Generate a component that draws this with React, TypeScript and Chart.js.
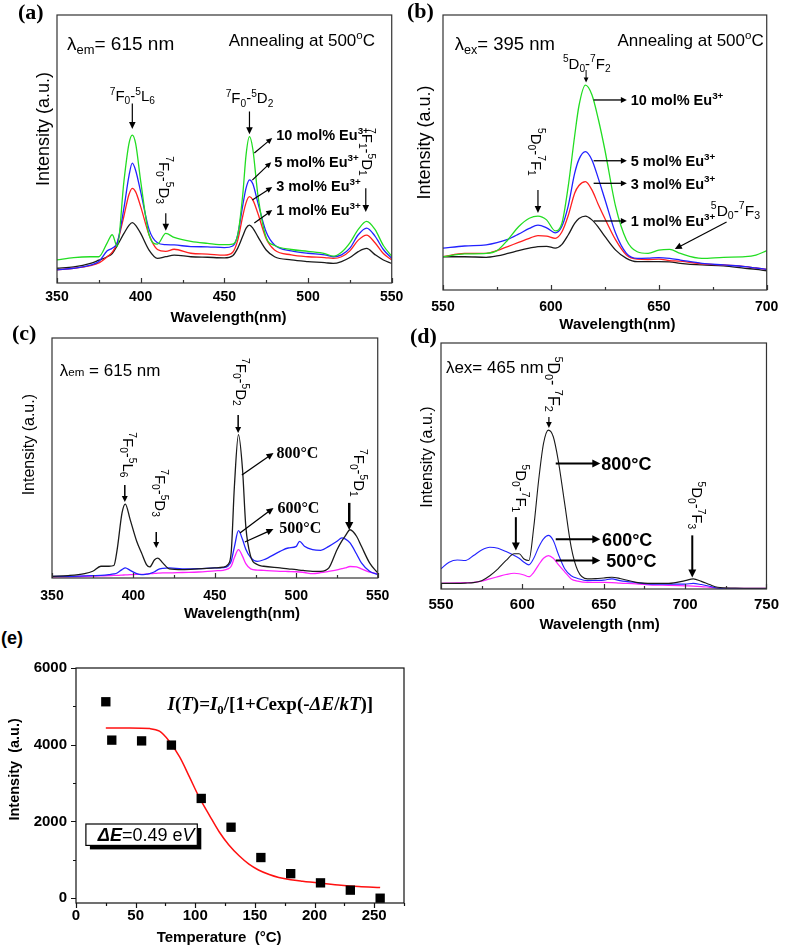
import React, { useEffect, useRef } from 'react';
import { Chart, registerables } from 'chart.js';
Chart.register(...registerables);

const SANS = '"Liberation Sans", Arial, Helvetica, sans-serif';
const SERIF = '"Liberation Serif", "Times New Roman", serif';

// ---------------- data ----------------
// (a) excitation spectra, λem = 615 nm
const aWavelength = [350, 360, 370, 375, 380, 383, 386, 390, 393, 395, 397, 400, 405, 410, 415, 420, 430, 440, 450, 455, 458, 461, 463, 465, 467, 470, 475, 480, 490, 500, 510, 515, 520, 525, 530, 535, 540, 545, 550];
const a10mol = [8.6, 9.5, 9.8, 9.8, 15, 18, 13.6, 38, 52, 55.2, 52, 38, 18, 14.5, 18.5, 17, 15.5, 14.8, 14.3, 14.5, 18, 33, 48, 54.6, 50, 33, 17, 14, 12.5, 11.8, 11, 10, 11.5, 15, 20, 23, 20, 14, 10];
const a5mol = [4.9, 5.5, 6.7, 8, 12, 13, 15, 28, 40, 44.7, 42, 34, 20, 15, 14.3, 14.2, 13.6, 13.5, 13.2, 13.8, 18, 29, 35.5, 38.5, 37, 30, 19, 14.2, 12, 11.1, 10.5, 9.8, 10.5, 13, 18, 20.5, 17.5, 12.5, 9.2];
const a3mol = [4.9, 5.5, 6.5, 7.5, 9.8, 11.5, 15, 25, 33, 35.3, 34, 28.5, 18, 12.5, 11.8, 12.6, 11.1, 10.8, 10.4, 11.5, 16, 25, 30, 32.2, 31, 26, 16.5, 12.3, 10.5, 9.8, 9.5, 9.2, 9.8, 12, 16, 17.9, 15, 11, 8.6];
const a1mol = [5.5, 6, 7.3, 8.5, 9.8, 11, 14, 18.5, 21.5, 22.5, 21.5, 18.5, 12.3, 9.2, 9.8, 10.4, 9.8, 9.6, 9.4, 10.2, 13, 17.5, 20.5, 21.6, 20.5, 17.3, 12.3, 9.8, 8.6, 8, 7.6, 7.3, 8, 9.5, 11.7, 12.9, 10.6, 8.6, 7.3];

// (b) emission spectra, λex = 395 nm
const bWavelength = [550, 560, 570, 575, 580, 585, 590, 594, 598, 602, 605, 608, 611, 613, 616, 619, 622, 625, 630, 635, 640, 645, 650, 655, 660, 670, 680, 690, 695, 700];
const b10mol = [12.1, 13.1, 13.3, 14.3, 18.2, 23, 26.1, 26.9, 25.5, 21.5, 24, 37.6, 56, 67, 74.5, 71, 62, 51, 30.3, 18.2, 13.9, 13.3, 14.5, 14.8, 13.3, 11.5, 11.9, 12.1, 12.7, 14.3];
const b5mol = [15.2, 16, 16.4, 17.2, 18.4, 20.3, 22.4, 23.6, 22.6, 20.8, 23, 30.5, 42.4, 47.5, 50.3, 47.3, 40.5, 33, 20.6, 13.3, 11.5, 11.6, 11.8, 11.5, 10.9, 9.7, 9.1, 8.5, 8, 7.5];
const b3mol = [12.1, 13.3, 13.3, 14.3, 15.8, 17.3, 18.8, 19.8, 19.6, 18.8, 21, 27, 35.2, 38, 39.4, 36.4, 31, 26, 18.2, 12.7, 11.2, 11.1, 11.2, 10.7, 10.5, 9.5, 9.1, 8.5, 8, 7.5];
const b1mol = [12.1, 12.1, 11.9, 12.4, 13.3, 14.3, 15.2, 15.8, 15.9, 15.2, 16.5, 20, 24.2, 26, 26.9, 25.5, 22.8, 19.5, 14.5, 11.5, 10.3, 10.3, 10.3, 10.2, 9.7, 9.1, 8.8, 7.9, 7.5, 7];

// (c) excitation spectra vs annealing temperature
const cWavelength = [350, 360, 370, 375, 380, 385, 388, 390, 393, 395, 398, 402, 405, 408, 410, 413, 415, 418, 422, 430, 440, 450, 455, 458, 460, 462, 464.5, 467, 469, 472, 476, 480, 490, 495, 500, 502, 505, 510, 515, 520, 525, 528, 530, 533, 537, 540, 545, 550];
const c800 = [0.7, 1, 1.8, 2.8, 4.9, 4.9, 5.2, 11.8, 27.1, 30.8, 24.3, 15.3, 10.4, 5.6, 4.6, 7.6, 8.3, 6.3, 3.8, 3.5, 3.8, 4.2, 4.5, 5.6, 10.4, 38.2, 59.7, 45.1, 21.5, 9, 5.6, 4.9, 4.2, 3.8, 3.5, 3.3, 3.1, 2.8, 2.8, 4.2, 11.8, 15.5, 17.4, 20.1, 17.4, 13.2, 6.3, 2.1];
const c600 = [0.7, 0.7, 0.9, 1, 1.1, 1.4, 1.7, 2.1, 3.5, 4.2, 3.2, 1.8, 1.4, 1.6, 1.8, 2.6, 3.5, 4, 4.2, 3.8, 3.9, 4.2, 4.3, 4.9, 7, 13, 19.7, 16, 12, 8.5, 6.9, 7.6, 11.1, 12.5, 13.2, 15.3, 13.2, 11.8, 11.5, 13.2, 15.3, 16.7, 16.3, 14.6, 10, 6.3, 2.8, 1.4];
const c500 = [0.4, 0.5, 0.7, 0.8, 0.9, 1, 1.1, 1.1, 1.2, 1.3, 1.4, 1.5, 1.5, 1.6, 1.8, 1.9, 2, 2.1, 2.1, 2.3, 2.5, 3, 3.2, 3.8, 4.9, 8.5, 11.8, 9, 6, 3.8, 3.3, 3.2, 2.8, 2.7, 2.6, 2.5, 2.3, 1.8, 2.2, 2.8, 3.4, 3.9, 4.2, 4.8, 4.6, 3.8, 2.4, 1.8];

// (d) emission spectra vs annealing temperature
const dWavelength = [550, 555, 560, 565, 570, 575, 580, 585, 590, 595, 598, 601, 604, 607, 610, 613, 616, 619, 622, 626, 630, 634, 640, 645, 650, 655, 660, 670, 680, 690, 700, 705, 710, 715, 720, 730, 740, 750];
const d800 = [2.3, 2.3, 2.3, 2.4, 2.6, 3.4, 5.4, 8.2, 11.6, 14.3, 14.3, 12.2, 11.6, 25.2, 44.2, 59.2, 64.6, 61.9, 52.4, 34.7, 17, 7.5, 4.1, 4.2, 4.5, 4.8, 4.3, 2.7, 2.3, 2.3, 3.4, 4.1, 3.1, 1.8, 0.7, 0.4, 0.3, 0.3];
const d600 = [8.2, 10.9, 11.8, 11.6, 13.6, 15.9, 17, 16.6, 15.2, 13.6, 12.5, 10.9, 9.8, 12.5, 17, 20.4, 21.8, 19.7, 14.3, 8.2, 5.4, 4.3, 3.4, 3.5, 3.6, 4.1, 3.4, 2.6, 2, 2, 2, 2.3, 1.8, 1.1, 0.3, 0.1, 0.1, 0];
const d500 = [2.3, 2.4, 2.5, 2.6, 2.7, 3.2, 4.1, 5, 5.9, 6.4, 6.2, 5.7, 5, 6.8, 9.8, 12.5, 13.6, 12.5, 10, 7, 4.1, 3.2, 2.7, 2.7, 2.7, 2.6, 2.4, 2.1, 1.6, 1.5, 1.3, 1.2, 1, 0.7, 0.4, 0.3, 0.3, 0.3];

// (e) thermal quenching
const eTemperature = [25, 30, 55, 80, 105, 130, 155, 180, 205, 230, 255];
const eIntensity = [5120, 4120, 4100, 3990, 2600, 1850, 1060, 640, 400, 210, 0];
const eFitTemperature = [25, 45, 62, 70, 78, 87, 95, 103, 112, 120, 128, 137, 145, 153, 162, 170, 180, 190, 205, 220, 237, 255];
const eFitIntensity = [4437, 4437, 4420, 4352, 4099, 3676, 3169, 2650, 2155, 1732, 1394, 1099, 887, 735, 617, 540, 480, 440, 390, 345, 305, 279];

// ---------------- helpers ----------------
const GREEN = '#22dd22';
const BLUE = '#2222ff';
const RED = '#ff2020';
const BLACK = '#1a1a1a';
const MAGENTA = '#ff22ff';

function series(xs: number[], ys: number[], color: string, width = 1.3) {
  return {
    data: xs.map((x, i) => ({ x, y: ys[i] })),
    borderColor: color,
    backgroundColor: color,
    borderWidth: width,
    pointRadius: 0,
    cubicInterpolationMode: 'monotone',
    fill: false,
  };
}

function stepValues(min: number, max: number, step: number) {
  const out: number[] = [];
  for (let v = Math.ceil(min / step - 1e-9) * step; v <= max + 1e-9; v += step) out.push(Math.round(v * 1000) / 1000);
  return out;
}

let mctx: CanvasRenderingContext2D | null = null;
function textWidth(text: string, font: string) {
  if (!mctx) mctx = document.createElement('canvas').getContext('2d');
  mctx!.font = font;
  return mctx!.measureText(text).width;
}
function padSpaces(text: string, font: string, delta: number) {
  const sw = textWidth(' ', font) || 4;
  const n = Math.round((2 * Math.abs(delta)) / sw);
  const sp = ' '.repeat(n);
  return delta > 0 ? sp + text : text + sp;
}

function parseRich(s: string) {
  const out: { t: string; k: string }[] = [];
  const re = /\{([\^_\/\*\.])([^}]*)\}|([^{]+)/g;
  let m: RegExpExecArray | null;
  while ((m = re.exec(s))) {
    if (m[3] !== undefined) out.push({ t: m[3], k: '' });
    else out.push({ t: m[2], k: m[1] });
  }
  return out;
}

type RichOpts = { size: number; family?: string; weight?: string; align?: 'left' | 'center' | 'right'; rotate?: number; color?: string };
function rich(ctx: CanvasRenderingContext2D, s: string, x: number, y: number, o: RichOpts) {
  const size = o.size;
  const fam = o.family || SANS;
  const wt0 = o.weight || 'normal';
  const segs = parseRich(s).map((sg) => {
    let fs = size, dy = 0, style = '', wt = wt0;
    if (sg.k === '^') { fs = size * 0.68; dy = -size * 0.42; }
    else if (sg.k === '_') { fs = size * 0.68; dy = size * 0.22; }
    else if (sg.k === '.') { fs = size * 0.68; }
    else if (sg.k === '/') { style = 'italic '; }
    else if (sg.k === '*') { style = 'italic '; wt = 'bold'; }
    const font = `${style}${wt} ${fs}px ${fam}`;
    ctx.font = font;
    return { t: sg.t, font, dy, w: ctx.measureText(sg.t).width };
  });
  const total = segs.reduce((a, b) => a + b.w, 0);
  ctx.save();
  ctx.translate(x, y);
  if (o.rotate) ctx.rotate(o.rotate);
  ctx.fillStyle = o.color || '#000';
  ctx.textBaseline = 'alphabetic';
  ctx.textAlign = 'left';
  let cx = o.align === 'left' ? 0 : o.align === 'right' ? -total : -total / 2;
  const base = size * 0.36;
  for (const sg of segs) {
    ctx.font = sg.font;
    ctx.fillText(sg.t, cx, base + sg.dy);
    cx += sg.w;
  }
  ctx.restore();
}

function arrow(ctx: CanvasRenderingContext2D, x1: number, y1: number, x2: number, y2: number, lw = 1.2, head = 7) {
  const ang = Math.atan2(y2 - y1, x2 - x1);
  const c = Math.cos(ang), s = Math.sin(ang);
  ctx.save();
  ctx.strokeStyle = '#000';
  ctx.fillStyle = '#000';
  ctx.lineWidth = lw;
  ctx.beginPath();
  ctx.moveTo(x1, y1);
  ctx.lineTo(x2 - c * head * 0.8, y2 - s * head * 0.8);
  ctx.stroke();
  const hw = head * 0.42 + lw * 0.3;
  ctx.beginPath();
  ctx.moveTo(x2, y2);
  ctx.lineTo(x2 - head * c + hw * s, y2 - head * s - hw * c);
  ctx.lineTo(x2 - head * c - hw * s, y2 - head * s + hw * c);
  ctx.closePath();
  ctx.fill();
  ctx.restore();
}

type Frame = { L: number; T: number; R: number; B: number };
interface PanelCfg {
  frame: Frame;
  xMin: number; xMax: number; xStep: number; xMajor: number; xLabelMax?: number;
  yMin: number; yMax: number; yStep?: number; yMajor?: number;
  xTitle: string; xTitleCX: number; xTitleCY: number; xTitleSize: number; xTitleWeight: string;
  yTitle: string; yTitleCX: number; yTitleCY: number; yTitleSize: number; yTitleWeight: string;
  tickSize: number; xLabelCY: number; yLabelRight?: number;
  tickOut: boolean;
  frameColor: string;
  datasets: any[];
  annotate: (ctx: CanvasRenderingContext2D, X: (v: number) => number, Y: (v: number) => number) => void;
}

function Panel({ cfg }: { cfg: PanelCfg }) {
  const ref = useRef<HTMLCanvasElement | null>(null);
  const f = cfg.frame;
  const lhY = cfg.yTitleSize * 1.2;
  const left = Math.floor(cfg.yTitleCX - lhY / 2);
  const yTitlePad = cfg.yTitleCX - lhY / 2 - left;
  const top = f.T - 12;
  const lhX = cfg.xTitleSize * 1.2;
  const height = Math.ceil(cfg.xTitleCY + lhX / 2 - top);
  const xH = height - (f.B - top);
  const xTitlePad = height - lhX / 2 - (cfg.xTitleCY - top);
  const width = Math.min(787 - left, Math.ceil(f.R + 16 - left));
  const padRight = width - (f.R - left);
  const yW = f.L - left;
  const tickLH = cfg.tickSize * 1.2;
  const xTickPad = cfg.xLabelCY - f.B - tickLH / 2;

  useEffect(() => {
    const xFont = `${cfg.xTitleWeight} ${cfg.xTitleSize}px ${SANS}`;
    const yFont = `${cfg.yTitleWeight} ${cfg.yTitleSize}px ${SANS}`;
    const xTitleText = padSpaces(cfg.xTitle, xFont, cfg.xTitleCX - (f.L + f.R) / 2);
    const yTitleText = padSpaces(cfg.yTitle, yFont, (f.T + f.B) / 2 - cfg.yTitleCY);
    const tickFont = { family: SANS, size: cfg.tickSize, weight: 'bold' as const };
    const labelMax = cfg.xLabelMax ?? cfg.xMax;
    const xTickVals = stepValues(cfg.xMin, cfg.xMax, cfg.xStep);
    const yTickVals = cfg.yStep ? stepValues(cfg.yMin, cfg.yMax, cfg.yStep) : [];

    const deco = {
      id: 'deco',
      afterDatasetsDraw(c: any) {
        const ctx: CanvasRenderingContext2D = c.ctx;
        const a = c.chartArea;
        const xs = c.scales.x, ys = c.scales.y;
        const X = (v: number) => xs.getPixelForValue(v);
        const Y = (v: number) => ys.getPixelForValue(v);
        ctx.save();
        ctx.strokeStyle = cfg.frameColor;
        ctx.lineWidth = 1.2;
        ctx.strokeRect(a.left, a.top, a.right - a.left, a.bottom - a.top);
        const dir = cfg.tickOut ? 1 : -1;
        ctx.beginPath();
        for (const v of xTickVals) {
          const major = Math.abs(v % cfg.xMajor) < 1e-6;
          const len = major ? 5 : 3;
          const px = Math.round(X(v)) + 0.5;
          ctx.moveTo(px, a.bottom);
          ctx.lineTo(px, a.bottom + dir * len);
        }
        for (const v of yTickVals) {
          const major = Math.abs(v % (cfg.yMajor || 1)) < 1e-6;
          const len = major ? 5 : 3;
          const py = Math.round(Y(v)) + 0.5;
          ctx.moveTo(a.left, py);
          ctx.lineTo(a.left - dir * len, py);
        }
        ctx.stroke();
        ctx.restore();
        cfg.annotate(ctx, X, Y);
      },
    };

    const chart = new Chart(ref.current!, {
      type: 'line',
      data: { datasets: cfg.datasets },
      options: {
        animation: false,
        responsive: false,
        maintainAspectRatio: false,
        layout: { padding: { top: 12, right: padRight, left: 0, bottom: 0 } },
        plugins: { legend: { display: false }, tooltip: { enabled: false } },
        scales: {
          x: {
            type: 'linear',
            min: cfg.xMin,
            max: cfg.xMax,
            afterFit: (s: any) => { s.height = xH; },
            afterBuildTicks: (s: any) => { s.ticks = xTickVals.map((v) => ({ value: v })); },
            grid: { display: false, drawTicks: false },
            border: { display: false },
            ticks: {
              autoSkip: false,
              maxRotation: 0,
              minRotation: 0,
              padding: xTickPad,
              color: '#000',
              font: tickFont,
              callback: (v: any) => (Math.abs(Number(v) % cfg.xMajor) < 1e-6 && Number(v) <= labelMax ? String(v) : ''),
            },
            title: { display: true, text: xTitleText, color: '#000', padding: { top: 0, bottom: xTitlePad }, font: { family: SANS, size: cfg.xTitleSize, weight: cfg.xTitleWeight as any } },
          },
          y: {
            type: 'linear',
            min: cfg.yMin,
            max: cfg.yMax,
            afterFit: (s: any) => { s.width = yW; },
            afterBuildTicks: (s: any) => { if (yTickVals.length) s.ticks = yTickVals.map((v) => ({ value: v })); },
            grid: { display: false, drawTicks: false },
            border: { display: false },
            ticks: {
              display: !!cfg.yStep,
              autoSkip: false,
              padding: cfg.yLabelRight !== undefined ? f.L - cfg.yLabelRight : 3,
              color: '#000',
              font: tickFont,
              callback: (v: any) => (cfg.yMajor && Math.abs(Number(v) % cfg.yMajor) < 1e-6 && Number(v) >= 0 ? String(v) : ''),
            },
            title: { display: true, text: yTitleText, color: '#000', padding: { top: yTitlePad, bottom: 0 }, font: { family: SANS, size: cfg.yTitleSize, weight: cfg.yTitleWeight as any } },
          },
        },
      } as any,
      plugins: [deco],
    } as any);
    return () => chart.destroy();
  }, []);

  return <canvas ref={ref} width={width} height={height} style={{ position: 'absolute', left, top, width, height }} />;
}

// ---------------- panel configs ----------------
const V = Math.PI / 2;

const panelA: PanelCfg = {
  frame: { L: 57, T: 15, R: 393, B: 283 },
  xMin: 350, xMax: 550, xStep: 25, xMajor: 50,
  yMin: 0, yMax: 100,
  xTitle: 'Wavelength(nm)', xTitleCX: 230, xTitleCY: 318, xTitleSize: 15, xTitleWeight: 'bold',
  yTitle: 'Intensity (a.u.)', yTitleCX: 44, yTitleCY: 128, yTitleSize: 18, yTitleWeight: 'normal',
  tickSize: 14, xLabelCY: 297, tickOut: false, frameColor: '#333',
  datasets: [series(aWavelength, a10mol, GREEN), series(aWavelength, a5mol, BLUE), series(aWavelength, a3mol, RED), series(aWavelength, a1mol, BLACK)],
  annotate: (ctx, X, Y) => {
    rich(ctx, 'λ{_em}= 615 nm', X(356), Y(89.5), { size: 19, align: 'left' });
    rich(ctx, 'Annealing at 500{^o}C', X(540), Y(90.7), { size: 17, align: 'right' });
    rich(ctx, '{^7}F{_0}-{^5}L{_6}', X(395), Y(70), { size: 15 });
    arrow(ctx, X(395), Y(67), X(395), Y(57.5), 1.2, 7);
    rich(ctx, '{^7}F{_0}-{^5}D{_3}', X(414.3), Y(38.4), { size: 15, rotate: V });
    arrow(ctx, X(415), Y(26), X(415), Y(19.5), 1.2, 7);
    rich(ctx, '{^7}F{_0}-{^5}D{_2}', X(465), Y(69), { size: 15 });
    arrow(ctx, X(465), Y(64), X(465), Y(55.5), 1.2, 7);
    arrow(ctx, X(467.9), Y(48.5), X(478.6), Y(54.1), 1.2, 6);
    rich(ctx, '10 mol% Eu{^3+}', X(481), Y(55.2), { size: 14.5, weight: 'bold', align: 'left' });
    arrow(ctx, X(466.7), Y(38.4), X(478), Y(45.1), 1.2, 6);
    rich(ctx, '5 mol% Eu{^3+}', X(479.8), Y(45.1), { size: 14.5, weight: 'bold', align: 'left' });
    arrow(ctx, X(466.7), Y(31), X(478.6), Y(35.8), 1.2, 6);
    rich(ctx, '3 mol% Eu{^3+}', X(481), Y(36.2), { size: 14.5, weight: 'bold', align: 'left' });
    arrow(ctx, X(467.9), Y(22.4), X(478.6), Y(27.2), 1.2, 6);
    rich(ctx, '1 mol% Eu{^3+}', X(481), Y(27.2), { size: 14.5, weight: 'bold', align: 'left' });
    rich(ctx, '{^7}F{_1}-{^5}D{_1}', X(535.5), Y(48.9), { size: 15, rotate: V });
    arrow(ctx, X(534.5), Y(35.4), X(534.5), Y(26.5), 1.2, 7);
  },
};

const panelB: PanelCfg = {
  frame: { L: 443, T: 15, R: 774, B: 290 },
  xMin: 550, xMax: 700, xStep: 25, xMajor: 50,
  yMin: 0, yMax: 100,
  xTitle: 'Wavelength(nm)', xTitleCX: 621, xTitleCY: 325, xTitleSize: 15, xTitleWeight: 'bold',
  yTitle: 'Intensity (a.u.)', yTitleCX: 425, yTitleCY: 143, yTitleSize: 18, yTitleWeight: 'normal',
  tickSize: 14, xLabelCY: 307, tickOut: false, frameColor: '#333',
  datasets: [series(bWavelength, b10mol, GREEN), series(bWavelength, b5mol, BLUE), series(bWavelength, b3mol, RED), series(bWavelength, b1mol, BLACK)],
  annotate: (ctx, X, Y) => {
    rich(ctx, 'λ{_ex}= 395 nm', X(555.4), Y(89.8), { size: 18.5, align: 'left' });
    rich(ctx, 'Annealing at 500{^o}C', X(698.6), Y(90.9), { size: 17, align: 'right' });
    rich(ctx, '{^5}D{_0}-{^7}F{_2}', X(616.6), Y(82.5), { size: 15 });
    arrow(ctx, X(616.3), Y(80), X(616.3), Y(75.5), 1, 5);
    const rows: [string, number][] = [['10 mol% Eu{^3+}', 69.1], ['5 mol% Eu{^3+}', 47], ['3 mol% Eu{^3+}', 38.8], ['1 mol% Eu{^3+}', 25.1]];
    for (const [t, v] of rows) {
      arrow(ctx, X(619.8), Y(v), X(635.2), Y(v), 1.3, 6);
      rich(ctx, t, X(637), Y(v), { size: 14.5, weight: 'bold', align: 'left' });
    }
    rich(ctx, '{^5}D{_0}-{^7}F{_1}', X(593.5), Y(50.2), { size: 15, rotate: V });
    arrow(ctx, X(594), Y(36.4), X(594), Y(28), 1.2, 7);
    rich(ctx, '{^5}D{_0}-{^7}F{_3}', X(685.5), Y(29.1), { size: 15.5 });
    arrow(ctx, X(681.4), Y(24.7), X(657.4), Y(14.9), 1.2, 7);
  },
};

const panelC: PanelCfg = {
  frame: { L: 52, T: 338, R: 383, B: 578 },
  xMin: 350, xMax: 550, xStep: 25, xMajor: 50,
  yMin: 0, yMax: 100,
  xTitle: 'Wavelength(nm)', xTitleCX: 245, xTitleCY: 614, xTitleSize: 15, xTitleWeight: 'bold',
  yTitle: 'Intensity (a.u.)', yTitleCX: 30, yTitleCY: 445, yTitleSize: 16, yTitleWeight: 'normal',
  tickSize: 14, xLabelCY: 596, tickOut: false, frameColor: '#333',
  datasets: [series(cWavelength, c800, BLACK), series(cWavelength, c600, BLUE), series(cWavelength, c500, MAGENTA)],
  annotate: (ctx, X, Y) => {
    rich(ctx, 'λ{.em} = 615 nm', X(354.8), Y(86.7), { size: 17, align: 'left' });
    rich(ctx, '{^7}F{_0}-{^5}L{_6}', X(397), Y(51.3), { size: 15, rotate: V });
    arrow(ctx, X(394.7), Y(38.8), X(394.7), Y(31.7), 1.5, 6);
    rich(ctx, '{^7}F{_0}-{^5}D{_3}', X(416.5), Y(35.4), { size: 15, rotate: V });
    arrow(ctx, X(414), Y(19.2), X(414), Y(12.5), 1.5, 6);
    rich(ctx, '{^7}F{_0}-{^5}D{_2}', X(466.3), Y(81.7), { size: 15, rotate: V });
    arrow(ctx, X(464.3), Y(67.9), X(464.3), Y(60.4), 1.5, 6);
    arrow(ctx, X(466.6), Y(42.9), X(486), Y(52.1), 1.3, 7);
    rich(ctx, '800°C', X(487.8), Y(52.5), { size: 16, family: SERIF, weight: 'bold', align: 'left' });
    arrow(ctx, X(465.4), Y(18.75), X(486), Y(29.2), 1.3, 7);
    rich(ctx, '600°C', X(488.4), Y(29.6), { size: 16, family: SERIF, weight: 'bold', align: 'left' });
    arrow(ctx, X(468.4), Y(15), X(486), Y(20.4), 1.3, 7);
    rich(ctx, '500°C', X(489.6), Y(21.3), { size: 16, family: SERIF, weight: 'bold', align: 'left' });
    rich(ctx, '{^7}F{_0}-{^5}D{_1}', X(538.5), Y(43.8), { size: 15, rotate: V });
    arrow(ctx, X(532.5), Y(31.3), X(532.5), Y(20), 2.5, 8);
  },
};

const panelD: PanelCfg = {
  frame: { L: 441, T: 343, R: 770, B: 589 },
  xMin: 550, xMax: 750, xStep: 25, xMajor: 50,
  yMin: 0, yMax: 100,
  xTitle: 'Wavelength (nm)', xTitleCX: 602, xTitleCY: 625, xTitleSize: 15, xTitleWeight: 'bold',
  yTitle: 'Intensity (a.u.)', yTitleCX: 428, yTitleCY: 457, yTitleSize: 16, yTitleWeight: 'normal',
  tickSize: 15, xLabelCY: 605, tickOut: false, frameColor: '#333',
  datasets: [series(dWavelength, d800, BLACK, 1.1), series(dWavelength, d600, BLUE, 1.1), series(dWavelength, d500, MAGENTA, 1.2)],
  annotate: (ctx, X, Y) => {
    rich(ctx, 'λex= 465 nm', X(553), Y(90.3), { size: 17, align: 'left' });
    rich(ctx, '{^5}D{_0}- {^7}F{_2}', X(619.3), Y(83.3), { size: 16, rotate: V });
    arrow(ctx, X(616.3), Y(69.9), X(616.3), Y(65.4), 1.2, 6);
    const rows: [string, number, number][] = [['800°C', 51, 648.5], ['600°C', 20.2, 649], ['500°C', 11.6, 651.5]];
    for (const [t, v, tx] of rows) {
      arrow(ctx, X(620.5), Y(v), X(647.9), Y(v), 2, 8);
      rich(ctx, t, X(tx), Y(v), { size: 18, weight: 'bold', align: 'left' });
    }
    rich(ctx, '{^5}D{_0}-{^7}F{_1}', X(599.2), Y(40.9), { size: 15, rotate: V });
    arrow(ctx, X(596), Y(29.2), X(596), Y(15.7), 2, 8);
    rich(ctx, '{^5}D{_0}-{^7}F{_3}', X(707.4), Y(34), { size: 15, rotate: V });
    arrow(ctx, X(704.4), Y(21.8), X(704.4), Y(4.7), 2, 8);
  },
};

const panelE: PanelCfg = {
  frame: { L: 76, T: 662, R: 404, B: 903 },
  xMin: 0, xMax: 275, xStep: 25, xMajor: 50, xLabelMax: 250,
  yMin: -125, yMax: 6000, yStep: 1000, yMajor: 2000,
  xTitle: 'Temperature  (°C)', xTitleCX: 220, xTitleCY: 938, xTitleSize: 15, xTitleWeight: 'bold',
  yTitle: 'Intensity  (a.u.)', yTitleCX: 15, yTitleCY: 767, yTitleSize: 14.5, yTitleWeight: 'bold',
  tickSize: 15, xLabelCY: 916, yLabelRight: 67, tickOut: true, frameColor: '#111',
  datasets: [
    {
      type: 'scatter',
      data: eTemperature.map((x, i) => ({ x, y: eIntensity[i] })),
      showLine: false,
      pointStyle: 'rect',
      pointRadius: 6.6,
      backgroundColor: '#000',
      borderColor: '#000',
      borderWidth: 0,
    },
    { ...series(eFitTemperature, eFitIntensity, '#ff1010', 1.5) },
  ],
  annotate: (ctx, X, Y) => {
    rich(ctx, '{/I}({/T})={/I}{_0}/[1+{/C}exp(-{/ΔE}/{/k}{/T})]', X(76.7), Y(5077), { size: 19, family: SERIF, weight: 'bold', align: 'left' });
    const x1 = X(8.3), x2 = X(101.7), y1 = Y(1934), y2 = Y(1376);
    ctx.save();
    ctx.fillStyle = '#000';
    ctx.fillRect(x1 + 4, y1 + 4, x2 - x1, y2 - y1);
    ctx.fillStyle = '#fff';
    ctx.fillRect(x1, y1, x2 - x1, y2 - y1);
    ctx.strokeStyle = '#000';
    ctx.lineWidth = 1.2;
    ctx.strokeRect(x1, y1, x2 - x1, y2 - y1);
    ctx.restore();
    rich(ctx, '{*ΔE}=0.49 e{/V}', X(18.3), Y(1656), { size: 18, align: 'left' });
  },
};

function Label({ text, x, cy, size, family }: { text: string; x: number; cy: number; size: number; family: string }) {
  return (
    <div style={{ position: 'absolute', left: x, top: cy - size * 0.59, fontFamily: family, fontWeight: 'bold', fontSize: size, lineHeight: 1, whiteSpace: 'nowrap', color: '#000' }}>
      {text}
    </div>
  );
}

export default function App() {
  return (
    <div style={{ position: 'absolute', left: 0, top: 0, width: 787, height: 948, overflow: 'hidden', background: '#fff' }}>
      <Panel cfg={panelA} />
      <Panel cfg={panelB} />
      <Panel cfg={panelC} />
      <Panel cfg={panelD} />
      <Panel cfg={panelE} />
      <Label text="(a)" x={18} cy={13.5} size={22} family={SERIF} />
      <Label text="(b)" x={407} cy={12.5} size={22} family={SERIF} />
      <Label text="(c)" x={12} cy={335} size={22} family={SERIF} />
      <Label text="(d)" x={410} cy={338} size={22} family={SERIF} />
      <Label text="(e)" x={1} cy={640} size={18} family={SANS} />
    </div>
  );
}
